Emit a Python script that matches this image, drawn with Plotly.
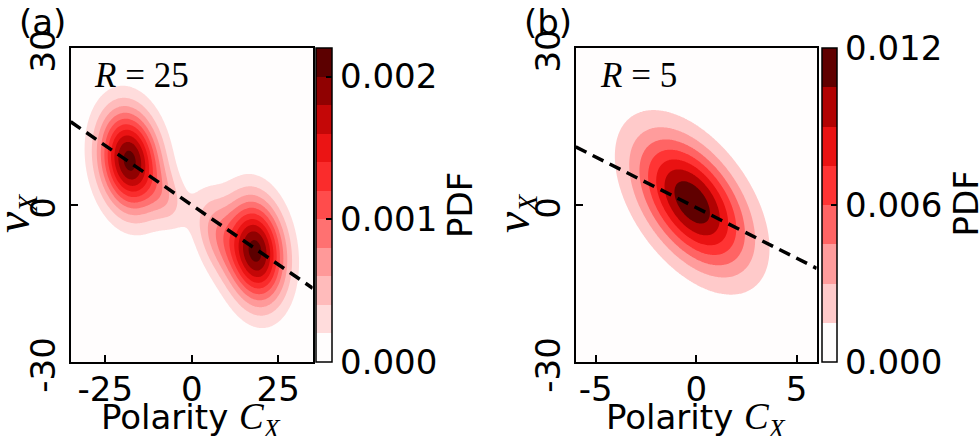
import numpy as np
import plotly.graph_objects as go

W, H = 980, 436

# ---------------- data ----------------
xa_tickvals = [-25, 0, 25]
xa_ticktext = ["-25", "0", "25"]
xb_tickvals = [-5, 0, 5]
xb_ticktext = ["-5", "0", "5"]
y_tickvals = [-30, 0, 30]
y_ticktext = ["-30", "0", "30"]

cba_tickvals = [0.0, 0.001, 0.002]
cba_ticktext = ["0.000", "0.001", "0.002"]
cbb_tickvals = [0.0, 0.006, 0.012]
cbb_ticktext = ["0.000", "0.006", "0.012"]

# panel (a) R = 25 : density blobs (centre x, centre y, spread x, spread y, correlation, peak)
a_cx = [-18.0, 18.5, -7.0, 6.5]
a_cy = [8.5, -8.8, 1.0, -5.0]
a_sx = [6.0, 5.8, 4.0, 4.5]
a_sy = [6.6, 6.8, 4.0, 5.5]
a_rho = [-0.15, -0.15, -0.3, -0.3]
a_amp = [0.00208, 0.00208, 0.00035, 0.00052]

# panel (b) R = 5
b_cx = [-0.2]
b_cy = [0.5]
b_sx = [1.9]
b_sy = [8.7]
b_rho = [-0.5]
b_amp = [0.0117]

# fitted dashed lines
a_line_x = [-35, 35]
a_line_y = [15.9, -15.9]
b_line_x = [-6, 6]
b_line_y = [11.1, -12.1]

# contour levels
a_levels = dict(start=0.0, end=0.00219, size=0.0002)
a_zmax = 0.0022
b_levels = dict(start=0.0, end=0.0119, size=0.0015)
b_zmax = 0.012


def density(xs, ys, cx, cy, sx, sy, rho, amp):
    X, Y = np.meshgrid(xs, ys)
    Z = np.zeros_like(X)
    for x0, y0, s1, s2, r, a in zip(cx, cy, sx, sy, rho, amp):
        u = (X - x0) / s1
        v = (Y - y0) / s2
        q = (u * u - 2 * r * u * v + v * v) / (1 - r * r)
        Z += a * np.exp(-0.5 * q)
    return Z


xa = np.linspace(-35, 35, 281)
ya = np.linspace(-30, 30, 241)
za = density(xa, ya, a_cx, a_cy, a_sx, a_sy, a_rho, a_amp)

xb = np.linspace(-6, 6, 241)
yb = np.linspace(-30, 30, 241)
zb = density(xb, yb, b_cx, b_cy, b_sx, b_sy, b_rho, b_amp)

# ---------------- colours ----------------
cm_t = [0, 0.0625, 0.1875, 0.3125, 0.4375, 0.5625, 0.6875, 0.8125, 0.9375, 1.0]
cm_r = [255, 255, 255, 255, 255, 255, 234, 178, 96, 80]
cm_g = [255, 246, 202, 156, 100, 52, 18, 2, 0, 0]


def cmap(t):
    r = np.interp(t, cm_t, cm_r)
    g = np.interp(t, cm_t, cm_g)
    return "rgb(%d,%d,%d)" % (round(r), round(g), round(g))


def band_scale(nbands):
    cols = [cmap((k + 0.5) / nbands) for k in range(nbands)]
    cols[0] = "rgb(255,253,253)"
    m = nbands - 1
    scale = [[0.0, cols[0]]]
    for k in range(m):
        scale.append([(k + 0.5) / m, cols[k]])
    scale.append([1.0, cols[-1]])
    return scale


FONT = "DejaVu Sans"
SERIF = "Liberation Serif"
FS = 34


def px_x(p):
    return p / W


def px_y(p):
    return 1 - p / H


ya_dom = [px_y(362), px_y(48)]
xa_dom = [px_x(70.7), px_x(312.7)]
xb_dom = [px_x(575.7), px_x(816.7)]


def cbar(xpix, thick, tv, tt):
    return dict(
        x=px_x(xpix), xanchor="left", xpad=0,
        y=ya_dom[0], yanchor="bottom", ypad=0,
        len=314, lenmode="pixels", thickness=thick,
        outlinewidth=1.5, outlinecolor="black",
        tickvals=tv, ticktext=tt, ticks="inside", ticklen=6,
        tickwidth=1.5, tickcolor="black",
        tickfont=dict(family=FONT, size=FS, color="black"),
    )


fig = go.Figure()

fig.add_trace(go.Contour(
    x=xa, y=ya, z=za, xaxis="x", yaxis="y",
    contours=dict(coloring="fill", showlines=False, **a_levels),
    line=dict(width=0), zmin=0, zmax=a_zmax,
    colorscale=band_scale(11),
    colorbar=cbar(316, 16, cba_tickvals, cba_ticktext),
    hoverinfo="skip",
))
fig.add_trace(go.Contour(
    x=xb, y=yb, z=zb, xaxis="x2", yaxis="y2",
    contours=dict(coloring="fill", showlines=False, **b_levels),
    line=dict(width=0), zmin=0, zmax=b_zmax,
    colorscale=band_scale(8),
    colorbar=cbar(821.7, 15, cbb_tickvals, cbb_ticktext),
    hoverinfo="skip",
))

dash = dict(color="black", width=3.5, dash="12px,7px")
fig.add_trace(go.Scatter(x=a_line_x, y=a_line_y, mode="lines", line=dash,
                         xaxis="x", yaxis="y", showlegend=False, hoverinfo="skip"))
fig.add_trace(go.Scatter(x=b_line_x, y=b_line_y, mode="lines", line=dash,
                         xaxis="x2", yaxis="y2", showlegend=False, hoverinfo="skip"))

axis_common = dict(
    showline=True, mirror=True, linecolor="black", linewidth=2,
    ticks="inside", ticklen=7, tickwidth=1.5, tickcolor="black",
    showgrid=False, zeroline=False, automargin=False,
    tickfont=dict(family=FONT, size=FS, color="black"),
)
xaxis_extra = dict(ticklabelstandoff=-4)
yaxis_extra = dict(tickangle=-90, ticklabelshift=8)

fig.update_layout(
    width=W, height=H,
    margin=dict(l=0, r=0, t=0, b=0, pad=0, autoexpand=False),
    paper_bgcolor="white", plot_bgcolor="white",
    showlegend=False,
    xaxis=dict(domain=xa_dom, range=[-35, 35], tickvals=xa_tickvals,
               ticktext=xa_ticktext, anchor="y", **axis_common, **xaxis_extra),
    yaxis=dict(domain=ya_dom, range=[-30, 30], tickvals=y_tickvals,
               ticktext=y_ticktext, anchor="x", **axis_common, **yaxis_extra),
    xaxis2=dict(domain=xb_dom, range=[-6, 6], tickvals=xb_tickvals,
                ticktext=xb_ticktext, anchor="y2", **axis_common, **xaxis_extra),
    yaxis2=dict(domain=ya_dom, range=[-30, 30], tickvals=y_tickvals,
                ticktext=y_ticktext, anchor="x2", **axis_common, **yaxis_extra),
)


def note(text, xp, yp, size=FS, family=FONT, angle=0, yanchor="middle"):
    fig.add_annotation(text=text, x=px_x(xp), y=px_y(yp), xref="paper", yref="paper",
                       xanchor="center", yanchor=yanchor, showarrow=False,
                       textangle=angle, font=dict(family=family, size=size, color="black"))


note("(a)", 42.5, 0, yanchor="top")
note("(b)", 548, 0, yanchor="top")
note("<i>R</i> = 25", 141.5, 75, size=35, family=SERIF)
note("<i>R</i> = 5", 638.5, 75, size=35, family=SERIF)
cx_txt = "Polarity <span style='font-family:Liberation Serif;font-size:37px'><i>C</i><sub><i>X</i></sub></span>"
note(cx_txt, 191, 419)
note(cx_txt, 696, 419)
vx_txt = "<span style='font-size:48px'><i>v</i></span><sub><i>X</i></sub>"
note(vx_txt, 14, 214, size=40, family=SERIF, angle=-90)
note(vx_txt, 514, 214, size=40, family=SERIF, angle=-90)
note("PDF", 460, 205, angle=-90)
note("PDF", 965.5, 204, angle=-90)

fig.write_html(
    "out.html",
    config={"displayModeBar": False},
    post_script="document.body.style.margin='0px';document.body.style.overflow='hidden';",
)
